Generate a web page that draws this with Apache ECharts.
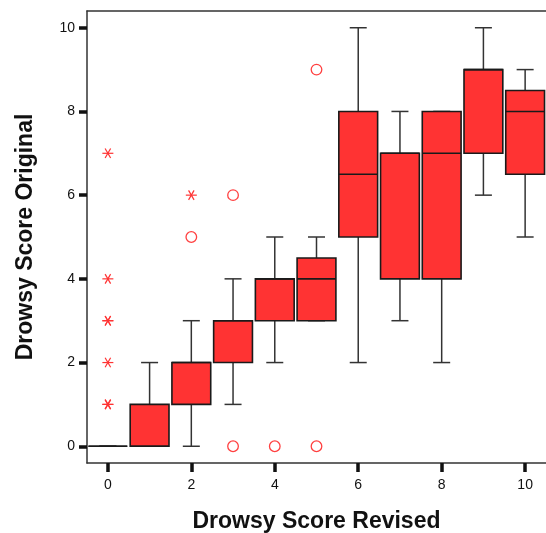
<!DOCTYPE html>
<html><head><meta charset="utf-8">
<script src="https://cdn.jsdelivr.net/npm/echarts@6/dist/echarts.min.js"></script>
<style>html,body{margin:0;padding:0;background:#fff}#c{width:546px;height:533px}</style>
</head><body><div id="c"></div>
<script>
const categories = ['0','1','2','3','4','5','6','7','8','9','10'];
// [min whisker, Q1, median, Q3, max whisker] per category
const boxStats = [
  [0, 0, 0, 0, 0],
  [0, 0, 0, 1, 2],
  [0, 1, 2, 2, 3],
  [1, 2, 3, 3, 4],
  [2, 3, 4, 4, 5],
  [3, 3, 4, 4.5, 5],
  [2, 5, 6.5, 8, 10],
  [3, 4, 7, 7, 8],
  [2, 4, 7, 8, 8],
  [6, 7, 9, 9, 10],
  [5, 6.5, 8, 8.5, 9]
];
// outliers [category index, value]
const circleOutliers = [[2,5],[3,6],[3,0],[4,0],[5,0],[5,9]];
const starOutliers = [[0,1],[0,1],[0,2],[0,3],[0,3],[0,4],[0,7],[2,6]];
const yTicks = [0,2,4,6,8,10];

const boxData = boxStats.map((s,i)=>[i].concat(s));
const RED = '#ff3333';

function renderBox(params, api){
  const x = api.value(0);
  const lo = api.coord([x, api.value(1)]);
  const q1 = api.coord([x, api.value(2)]);
  const md = api.coord([x, api.value(3)]);
  const q3 = api.coord([x, api.value(4)]);
  const hi = api.coord([x, api.value(5)]);
  const bw = api.size([1,0])[0]*0.93;
  const cw = 17;
  const cx = lo[0];
  const wStyle = {stroke:'#333', lineWidth:1.5, fill:null};
  const children = [
    {type:'line', shape:{x1:cx,y1:q3[1],x2:cx,y2:hi[1]}, style:wStyle},
    {type:'line', shape:{x1:cx,y1:q1[1],x2:cx,y2:lo[1]}, style:wStyle},
    {type:'line', shape:{x1:cx-cw/2,y1:hi[1],x2:cx+cw/2,y2:hi[1]}, style:wStyle},
    {type:'line', shape:{x1:cx-cw/2,y1:lo[1],x2:cx+cw/2,y2:lo[1]}, style:wStyle},
    {type:'rect', shape:{x:cx-bw/2, y:q3[1], width:bw, height:q1[1]-q3[1]},
      style:{fill:RED, stroke:'#1a1a1a', lineWidth:1.6}},
    {type:'line', shape:{x1:cx-bw/2,y1:md[1],x2:cx+bw/2,y2:md[1]}, style:{stroke:'#1a1a1a', lineWidth:1.6}}
  ];
  return {type:'group', children};
}
function renderCircle(params, api){
  const p = api.coord([api.value(0), api.value(1)]);
  return {type:'circle', shape:{cx:p[0], cy:p[1], r:5.3}, style:{fill:null, stroke:'#ff4040', lineWidth:1.3}};
}
function renderStar(params, api){
  const p = api.coord([api.value(0), api.value(1)]);
  const r = 5.5, a = r*0.5, b = r*0.866;
  const st = {stroke:'#ff3333', lineWidth:1.2, fill:null};
  return {type:'group', children:[
    {type:'line', shape:{x1:p[0]-r,y1:p[1],x2:p[0]+r,y2:p[1]}, style:st},
    {type:'line', shape:{x1:p[0]-a,y1:p[1]-b,x2:p[0]+a,y2:p[1]+b}, style:st},
    {type:'line', shape:{x1:p[0]+a,y1:p[1]-b,x2:p[0]-a,y2:p[1]+b}, style:st}
  ]};
}

const chart = echarts.init(document.getElementById('c'));
const axisFont = {fontFamily:'Liberation Sans, Arial, sans-serif', fontSize:14, color:'#111'};
const nameFont = {fontFamily:'Liberation Sans, Arial, sans-serif', fontSize:23, fontWeight:'bold', color:'#111'};
chart.setOption({
  backgroundColor:'#fff',
  animation:false,
  grid:{left:87, right:0, top:11, bottom:70, containLabel:false, outerBoundsMode:'none'},
  xAxis:[{
    type:'category', data:categories, boundaryGap:true,
    name:'Drowsy Score Revised', nameLocation:'middle', nameGap:47, nameTextStyle:nameFont,
    axisLine:{show:true, onZero:false, lineStyle:{color:'#333', width:1.5}},
    axisTick:{show:true, alignWithLabel:true, interval:1, length:9, lineStyle:{color:'#111', width:3.5}},
    axisLabel:Object.assign({interval:1, margin:15}, axisFont),
    splitLine:{show:false}
  },{
    type:'category', data:categories, position:'top',
    axisLine:{show:true, onZero:false, lineStyle:{color:'#333', width:1.5}},
    axisTick:{show:false}, axisLabel:{show:false}, splitLine:{show:false}
  }],
  yAxis:{
    type:'value', min:-0.4, max:10.4,
    name:'Drowsy Score Original', nameLocation:'middle', nameGap:50, nameTextStyle:nameFont,
    axisLine:{show:true, onZero:false, lineStyle:{color:'#333', width:1.5}},
    axisTick:{show:true, length:8, customValues:yTicks, lineStyle:{color:'#111', width:3.5}},
    axisLabel:Object.assign({customValues:yTicks, margin:12}, axisFont),
    splitLine:{show:false}
  },
  series:[
    {type:'custom', renderItem:renderBox, data:boxData, encode:{x:0, y:[1,2,3,4,5]}, z:2},
    {type:'custom', renderItem:renderCircle, data:circleOutliers, encode:{x:0,y:1}, z:3},
    {type:'custom', renderItem:renderStar, data:starOutliers, encode:{x:0,y:1}, z:3}
  ]
});
</script></body></html>
